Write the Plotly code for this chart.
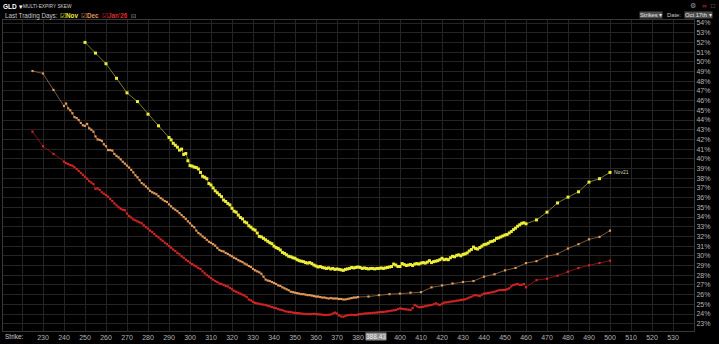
import plotly.graph_objects as go

# ---------------- data ----------------
nov_low_strikes = [250, 255, 260, 265, 270, 275, 280, 285]
nov_low_iv = [52.0, 50.9, 49.8, 48.3, 46.8, 45.9, 44.6, 43.4]
nov_mid_strikes = list(range(290, 461))
nov_mid_iv = [
    42.2, 41.95, 41.6, 41.4, 41.2, 40.9, 41.0, 40.45, 40.55, 39.8,
    39.3, 39.25, 39.15, 39.1, 38.95, 38.6, 38.2, 38.1, 37.95, 37.45,
    37.3, 37.0, 36.7, 36.5, 36.3, 36.1, 35.75, 35.6, 35.4, 35.25,
    34.9, 34.6, 34.5, 34.2, 33.95, 33.8, 33.5, 33.4, 33.1, 32.95,
    32.75, 32.65, 32.35, 32.0, 31.95, 31.8, 31.65, 31.5, 31.35, 31.25,
    31.0, 30.85, 30.75, 30.6, 30.35, 30.25, 30.1, 29.95, 29.9, 29.8,
    29.75, 29.6, 29.5, 29.45, 29.4, 29.3, 29.25, 29.3, 29.2, 29.05,
    28.95, 28.85, 28.9, 28.8, 28.75, 28.7, 28.75, 28.65, 28.7, 28.6,
    28.65, 28.6, 28.55, 28.5, 28.6, 28.65, 28.7, 28.8, 28.75, 28.8,
    28.85, 28.8, 28.7, 28.75, 28.7, 28.65, 28.7, 28.7, 28.65, 28.7,
    28.7, 28.75, 28.7, 28.75, 28.8, 28.85, 28.9, 29.15, 29.05, 28.9,
    28.9, 29.2, 29.1, 29.0, 29.05, 29.1, 29.0, 29.15, 29.2, 29.15,
    29.25, 29.3, 29.25, 29.35, 29.5, 29.3, 29.4, 29.45, 29.5, 29.6,
    29.75, 29.6, 29.65, 29.6, 29.8, 29.95, 29.9, 30.05, 30.1, 30.0,
    30.15, 30.2, 30.3, 30.5, 30.65, 30.9, 30.75, 30.7, 30.85, 31.0,
    31.15, 31.2, 31.3, 31.45, 31.5, 31.6, 31.8, 31.85, 31.95, 32.05,
    32.15, 32.2, 32.35, 32.5, 32.7, 32.85, 33.05, 33.2, 33.35, 33.4,
    33.3,
]
nov_high_strikes = [465, 470, 475, 480, 485, 490, 495, 500]
nov_high_iv = [33.7, 34.5, 35.45, 36.05, 36.6, 37.6, 37.95, 38.6]

dec_low_strikes = [225, 230, 235]
dec_low_iv = [49.05, 48.8, 47.1]
dec_mid_strikes = list(range(240, 381))
dec_mid_iv = [
    45.44, 45.7, 45.2, 45.0, 44.7, 44.3, 44.2, 44.0, 43.7, 43.45,
    43.4, 43.6, 43.15, 43.0, 42.8, 42.3, 42.0, 41.95, 41.85, 41.5,
    41.3, 40.9, 40.9, 40.85, 40.5, 40.3, 40.15, 39.95, 39.7, 39.5,
    39.3, 39.1, 38.85, 38.6, 38.3, 38.1, 37.8, 37.5, 37.35, 37.15,
    36.95, 36.7, 36.55, 36.45, 36.35, 36.15, 35.95, 35.8, 35.65, 35.55,
    35.3, 35.1, 34.9, 34.75, 34.6, 34.4, 34.2, 34.0, 33.8, 33.55,
    33.35, 33.1, 32.95, 32.6, 32.35, 32.2, 32.0, 31.85, 31.65, 31.45,
    31.35, 31.2, 31.05, 30.8, 30.6, 30.5, 30.45, 30.3, 30.2, 30.05,
    29.95, 29.8, 29.7, 29.55, 29.45, 29.35, 29.2, 29.1, 28.95, 28.85,
    28.65, 28.5, 28.4, 28.3, 28.15, 27.85, 27.55, 27.45, 27.4, 27.3,
    27.2, 27.1, 26.95, 26.9, 26.75, 26.65, 26.55, 26.45, 26.3, 26.25,
    26.2, 26.15, 26.1, 26.05, 26.05, 26.0, 25.95, 25.95, 25.9, 25.85,
    25.8, 25.8, 25.75, 25.7, 25.7, 25.65, 25.6, 25.65, 25.6, 25.6,
    25.6, 25.55, 25.55, 25.5, 25.5, 25.55, 25.6, 25.65, 25.7, 25.7,
    25.75,
]
dec_high_strikes = [385, 390, 395, 400, 405, 410, 415, 420, 425, 430, 435, 440,
                    445, 450, 455, 460, 465, 470, 475, 480, 485, 490, 495, 500]
dec_high_iv = [25.8, 25.95, 26.05, 26.1, 26.2, 26.25, 26.75, 26.95, 27.15, 27.3, 27.4, 27.85,
               28.1, 28.5, 28.75, 29.25, 29.45, 29.95, 30.2, 30.75, 31.2, 31.7, 31.95, 32.6]

jan_low_strikes = [225, 230, 235]
jan_low_iv = [42.8, 41.3, 40.5]
jan_mid_strikes = list(range(240, 461))
jan_mid_iv = [
    39.7, 39.55, 39.45, 39.35, 39.3, 39.15, 38.95, 38.75, 38.55, 38.35,
    38.15, 37.95, 37.7, 37.55, 37.4, 36.9, 36.95, 36.8, 36.55, 36.4,
    36.25, 36.1, 35.85, 35.65, 35.4, 35.2, 35.0, 34.85, 34.75, 34.7,
    34.35, 34.1, 33.95, 33.75, 33.65, 33.55, 33.45, 33.35, 33.15, 32.95,
    32.8, 32.6, 32.45, 32.25, 32.05, 31.9, 31.7, 31.55, 31.35, 31.2,
    31.0, 30.85, 30.65, 30.5, 30.3, 30.15, 29.95, 29.8, 29.6, 29.45,
    29.3, 29.15, 29.0, 28.9, 28.75, 28.65, 28.4, 28.2, 28.0, 27.85,
    27.7, 27.55, 27.4, 27.3, 27.15, 27.1, 27.0, 26.9, 26.85, 26.7,
    26.55, 26.4, 26.3, 26.2, 26.1, 26.0, 25.9, 25.75, 25.5, 25.4,
    25.25, 25.15, 25.1, 25.05, 25.0, 24.97, 24.93, 24.85, 24.8, 24.72,
    24.65, 24.6, 24.5, 24.45, 24.4, 24.3, 24.25, 24.22, 24.2, 24.15,
    24.12, 24.1, 24.08, 24.05, 24.02, 24.0, 24.0, 23.98, 24.0, 24.02,
    24.0, 23.97, 23.95, 23.93, 23.9, 23.9, 23.92, 23.95, 24.05, 24.15,
    24.05, 23.85, 23.75, 23.72, 23.8, 23.88, 23.9, 23.92, 23.9, 23.9,
    23.95, 23.98, 24.0, 24.05, 24.07, 24.08, 24.1, 24.12, 24.13, 24.15,
    24.18, 24.2, 24.22, 24.24, 24.28, 24.3, 24.35, 24.38, 24.42, 24.5,
    24.58, 24.55, 24.5, 24.48, 24.45, 24.42, 24.6, 24.93, 24.8, 24.7,
    24.72, 24.75, 24.8, 24.85, 24.9, 24.93, 25.0, 25.1, 25.0, 24.93,
    25.05, 25.17, 25.2, 25.22, 25.27, 25.3, 25.33, 25.38, 25.4, 25.45,
    25.48, 25.51, 25.6, 25.7, 25.78, 25.9, 25.95, 25.9, 25.85, 26.0,
    26.1, 26.13, 26.18, 26.2, 26.25, 26.3, 26.38, 26.45, 26.47, 26.47,
    26.48, 26.55, 26.65, 26.85, 26.99, 27.05, 27.09, 27.0, 27.02, 27.09,
    26.75,
]
jan_high_strikes = [465, 470, 475, 480, 485, 490, 495, 500]
jan_high_iv = [27.5, 27.64, 27.95, 28.36, 28.74, 29.02, 29.26, 29.5]

x_tick_values = list(range(220, 541, 10))
x_tick_labels = ["" if v in (220, 540) else str(v) for v in x_tick_values]
y_tick_values = list(range(23, 55))
y_tick_labels = [f"{v}%" for v in y_tick_values]
spot_price = 388.43

assert len(nov_mid_strikes) == len(nov_mid_iv)
assert len(dec_mid_strikes) == len(dec_mid_iv)
assert len(jan_mid_strikes) == len(jan_mid_iv)

series = [
    ("Nov", nov_low_strikes + nov_mid_strikes + nov_high_strikes,
     nov_low_iv + nov_mid_iv + nov_high_iv, "#9c9c38", "#eeee3a", 3),
    ("Dec", dec_low_strikes + dec_mid_strikes + dec_high_strikes,
     dec_low_iv + dec_mid_iv + dec_high_iv, "#9a7048", "#e39a58", 2.2),
    ("Jan'26", jan_low_strikes + jan_mid_strikes + jan_high_strikes,
     jan_low_iv + jan_mid_iv + jan_high_iv, "#a01818", "#d42424", 2.2),
]

fig = go.Figure()
for name, xs, ys, lc, mc, ms in series:
    fig.add_trace(go.Scatter(
        x=xs, y=ys, name=name, mode="lines+markers",
        line=dict(color=lc, width=0.8),
        marker=dict(color=mc, size=ms, symbol="square", line=dict(width=0)),
        showlegend=False,
    ))

W, H = 719, 344
L, R, T, B = 3, 25, 20, 13
PW, PH = W - L - R, H - T - B


def px(x):
    return (x - L) / PW


def py(y):
    return 1 - (y - T) / PH


FONT = "Liberation Sans, Arial, sans-serif"
ann = []


def text(x, y, s, size=7.5, color="#c8c8c8", anchor="left", **kw):
    ann.append(dict(x=px(x), y=py(y), xref="paper", yref="paper", text=s,
                    showarrow=False, xanchor=anchor, yanchor="middle",
                    font=dict(size=size, color=color, family=FONT), **kw))


text(1, 6, "<b>GLD</b> ▾", 6.5, "#ffffff")
text(21, 6, "MULTI-EXPIRY SKEW", 4.8, "#cfcfcf")
text(3, 16, "Last Trading Days:", 6.3, "#c8c8c8")
text(58, 16, "☑", 6.5, "#eeee3a")
text(64, 16, "<b>Nov</b>", 6.3, "#eeee3a")
text(79, 16, "☑", 6.5, "#e39a58")
text(85, 16, "<b>Dec</b>", 6.3, "#e39a58")
text(100, 16, "☑", 6.5, "#e02a2a")
text(106, 16, "<b>Jan'26</b>", 6.3, "#e02a2a")
text(129, 16, "⊡", 6, "#bdbdbd")
text(651, 15, "Strikes ▾", 5.8, "#e6e6e6", anchor="center", bgcolor="#4c4c4c", borderpad=0)
text(665, 15, "Date:", 5.8, "#c8c8c8")
text(698, 15, "Oct 17th ▾", 5.8, "#e6e6e6", anchor="center", bgcolor="#4c4c4c", borderpad=0)
text(693, 5, "⚙", 6.5, "#9a9a9a", anchor="center")
text(704, 5, "∞", 6.5, "#c83030", anchor="center")
text(713, 5, "□", 6.5, "#8a8a8a", anchor="center")
text(3, 336, "Strike:", 6.5, "#c8c8c8")

ann.append(dict(x=spot_price, y=py(336), xref="x", yref="paper", text=f"{spot_price:.2f}",
                showarrow=False, xanchor="center", yanchor="middle", bgcolor="#8c8c8c",
                borderpad=0, font=dict(size=6.5, color="#f0f0f0", family=FONT)))
ann.append(dict(x=500, y=nov_high_iv[-1], xref="x", yref="y", text="Nov21",
                showarrow=False, xanchor="left", yanchor="middle", xshift=2,
                font=dict(size=5, color="#d8d8b0", family=FONT)))

fig.update_layout(
    width=W, height=H,
    margin=dict(l=L, r=R, t=T, b=B, pad=0),
    paper_bgcolor="#000000", plot_bgcolor="#000000",
    annotations=ann,
    xaxis=dict(range=[210.95, 540], tickvals=x_tick_values, ticktext=x_tick_labels,
               showgrid=True, gridcolor="#242424", gridwidth=1, zeroline=False,
               showline=True, linecolor="#383838", mirror=True, ticks="",
               tickfont=dict(size=7, color="#b4b4b4", family=FONT)),
    yaxis=dict(range=[22.25, 54.31], tickvals=y_tick_values, ticktext=y_tick_labels,
               side="right", showgrid=True, gridcolor="#242424", gridwidth=1,
               zeroline=False, showline=True, linecolor="#383838", mirror=True,
               ticks="", tickfont=dict(size=7, color="#b4b4b4", family=FONT)),
)

fig.write_html("out.html")
